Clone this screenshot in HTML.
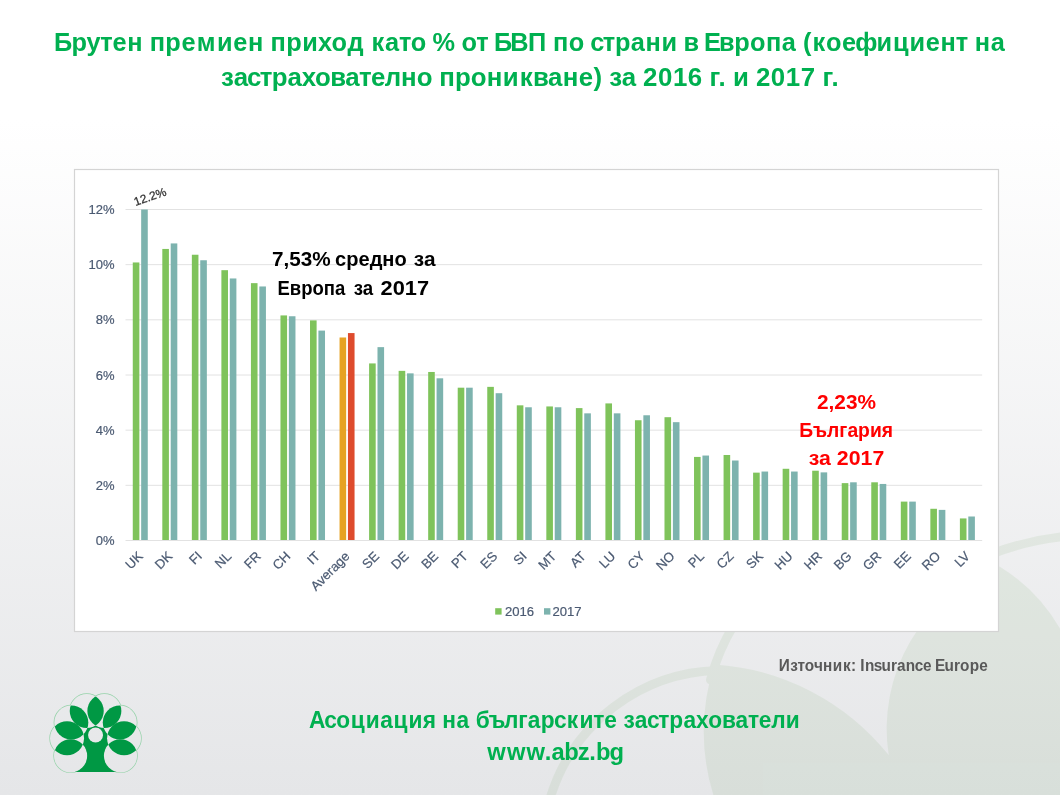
<!DOCTYPE html><html><head><meta charset="utf-8"><title>Брутен премиен приход</title><style>html,body{margin:0;padding:0;width:1060px;height:795px;overflow:hidden;background:#fff}svg{display:block}text{white-space:pre}</style></head><body>
<svg xml:space="preserve" width="1060" height="795" viewBox="0 0 1060 795">
<defs><linearGradient id="bg" x1="0" y1="0" x2="0" y2="1"><stop offset="0" stop-color="#ffffff"/><stop offset="0.15" stop-color="#ffffff"/><stop offset="1" stop-color="#e5e6e8"/></linearGradient><clipPath id="wA"><circle cx="890" cy="732" r="192"/></clipPath></defs>
<rect width="1060" height="795" fill="url(#bg)"/>
<g opacity="0.1">
<path d="M 714 797 A 213 213 0 0 1 714.5 664.5 A 243 243 0 0 1 888.7 755.1 A 173 173 0 0 1 999.6 566.4 A 180 180 0 0 1 1062 632 L 1062 797 Z" fill="#70a35f"/>
<g fill="none" stroke="#70a35f" stroke-width="9" stroke-linecap="round">
<path d="M 550.5 797 A 180 180 0 0 1 718 670.5"/>
<path d="M 710.5 680 A 208.5 208.5 0 0 1 733.8 625"/>
<path d="M 990 554.5 Q 1025 541 1062 536.8"/>
</g></g>
<defs>
<clipPath id="cTL"><circle cx="86.74" cy="711.0" r="17"/></clipPath>
<clipPath id="cTR"><circle cx="104.36" cy="711.0" r="17"/></clipPath>
<clipPath id="cLU"><circle cx="71.32" cy="722.5" r="17"/></clipPath>
<clipPath id="cRU"><circle cx="119.78" cy="722.5" r="17"/></clipPath>
<clipPath id="cLM"><circle cx="67.05" cy="738.3" r="17"/></clipPath>
<clipPath id="cRM"><circle cx="124.05" cy="738.3" r="17"/></clipPath>
<clipPath id="cLB"><circle cx="70.6" cy="755.8" r="16.6"/></clipPath>
<clipPath id="cRB"><circle cx="120.5" cy="755.8" r="16.6"/></clipPath>
<mask id="mOut" maskUnits="userSpaceOnUse" x="40" y="680" width="120" height="110"><rect x="40" y="680" width="120" height="110" fill="#fff"/>
<circle cx="86.74" cy="711.0" r="17" fill="#000"/>
<circle cx="104.36" cy="711.0" r="17" fill="#000"/>
<circle cx="71.32" cy="722.5" r="17" fill="#000"/>
<circle cx="119.78" cy="722.5" r="17" fill="#000"/>
<circle cx="67.05" cy="738.3" r="17" fill="#000"/>
<circle cx="124.05" cy="738.3" r="17" fill="#000"/>
<circle cx="70.6" cy="755.8" r="16.6" fill="#000"/>
<circle cx="120.5" cy="755.8" r="16.6" fill="#000"/>
<circle cx="95.55" cy="735.0" r="7.5" fill="#000"/>
</mask>
</defs>
<g mask="url(#mOut)" fill="none" stroke="#94d2a8" stroke-width="1.4">
<circle cx="86.74" cy="711.0" r="17"/>
<circle cx="104.36" cy="711.0" r="17"/>
<circle cx="71.32" cy="722.5" r="17"/>
<circle cx="119.78" cy="722.5" r="17"/>
<circle cx="67.05" cy="738.3" r="17"/>
<circle cx="124.05" cy="738.3" r="17"/>
<circle cx="70.6" cy="755.8" r="16.6"/>
<circle cx="120.5" cy="755.8" r="16.6"/>
</g>
<polygon points="86.74,711.00 104.36,711.00 119.78,722.50 124.05,738.30 120.50,755.80 120.50,772.00 70.60,772.00 70.60,755.80 67.05,738.30 71.32,722.50" fill="#009844" mask="url(#mOut)"/>
<circle cx="86.74" cy="711.0" r="17" fill="#009844" clip-path="url(#cTR)"/>
<circle cx="86.74" cy="711.0" r="17" fill="#009844" clip-path="url(#cLU)"/>
<circle cx="71.32" cy="722.5" r="17" fill="#009844" clip-path="url(#cLM)"/>
<circle cx="67.05" cy="738.3" r="17" fill="#009844" clip-path="url(#cLB)"/>
<circle cx="104.36" cy="711.0" r="17" fill="#009844" clip-path="url(#cRU)"/>
<circle cx="119.78" cy="722.5" r="17" fill="#009844" clip-path="url(#cRM)"/>
<circle cx="124.05" cy="738.3" r="17" fill="#009844" clip-path="url(#cRB)"/>
<text transform="scale(0.95627,1)" x="56.60 74.83 90.58 104.79 117.54 133.03 149.20 156.56 172.92 189.69 205.67 226.84 243.91 259.39 275.57 282.93 299.29 316.04 332.50 346.69 363.39 380.54 388.47 402.67 417.13 429.47 445.61 452.19 474.97 482.62 498.15 510.42 516.59 533.69 552.03 571.03 578.39 594.77 610.92 617.14 630.43 643.06 659.62 674.96 691.75 708.24 714.85 730.40 736.21 751.99 767.90 784.40 800.96 817.39 832.14 839.67 849.75 863.71 880.43 894.32 916.71 933.91 951.09 968.16 983.64 999.52 1011.80 1019.32 1035.93" y="51.0" style="font-family:'Liberation Sans',sans-serif;font-weight:bold;font-size:26.5px" fill="#00b050">Брутен премиен приход като % от БВП по страни в Европа (коефициент на</text>
<text transform="scale(0.97527,1)" x="226.66 239.57 253.31 266.37 278.72 294.91 309.29 323.00 338.67 354.11 368.15 380.40 394.62 411.17 427.40 443.31 450.45 466.50 482.69 499.10 515.56 532.91 546.48 561.97 576.99 593.43 608.66 617.50 624.60 637.52 652.06 659.41 674.67 689.95 705.23 719.95 727.54 736.78 744.21 751.53 767.79 775.15 790.42 805.70 820.97 835.71 843.29 852.52" y="85.7" style="font-family:'Liberation Sans',sans-serif;font-weight:bold;font-size:26.5px" fill="#00b050">застрахователно проникване) за 2016 г. и 2017 г.</text>
<rect x="74.5" y="169.5" width="924" height="462" fill="#ffffff" stroke="#d4d4d4" stroke-width="1.2"/>
<line x1="125.5" x2="982.2" y1="540.50" y2="540.50" stroke="#e2e2e2" stroke-width="1"/>
<text x="114.6" y="545.10" text-anchor="end" style="font-family:'Liberation Sans',sans-serif;font-size:13px" fill="#4b5a72" stroke="#4b5a72" stroke-width="0.2">0%</text>
<line x1="125.5" x2="982.2" y1="485.33" y2="485.33" stroke="#e2e2e2" stroke-width="1"/>
<text x="114.6" y="489.93" text-anchor="end" style="font-family:'Liberation Sans',sans-serif;font-size:13px" fill="#4b5a72" stroke="#4b5a72" stroke-width="0.2">2%</text>
<line x1="125.5" x2="982.2" y1="430.17" y2="430.17" stroke="#e2e2e2" stroke-width="1"/>
<text x="114.6" y="434.77" text-anchor="end" style="font-family:'Liberation Sans',sans-serif;font-size:13px" fill="#4b5a72" stroke="#4b5a72" stroke-width="0.2">4%</text>
<line x1="125.5" x2="982.2" y1="375.00" y2="375.00" stroke="#e2e2e2" stroke-width="1"/>
<text x="114.6" y="379.60" text-anchor="end" style="font-family:'Liberation Sans',sans-serif;font-size:13px" fill="#4b5a72" stroke="#4b5a72" stroke-width="0.2">6%</text>
<line x1="125.5" x2="982.2" y1="319.83" y2="319.83" stroke="#e2e2e2" stroke-width="1"/>
<text x="114.6" y="324.43" text-anchor="end" style="font-family:'Liberation Sans',sans-serif;font-size:13px" fill="#4b5a72" stroke="#4b5a72" stroke-width="0.2">8%</text>
<line x1="125.5" x2="982.2" y1="264.67" y2="264.67" stroke="#e2e2e2" stroke-width="1"/>
<text x="114.6" y="269.27" text-anchor="end" style="font-family:'Liberation Sans',sans-serif;font-size:13px" fill="#4b5a72" stroke="#4b5a72" stroke-width="0.2">10%</text>
<line x1="125.5" x2="982.2" y1="209.50" y2="209.50" stroke="#e2e2e2" stroke-width="1"/>
<text x="114.6" y="214.10" text-anchor="end" style="font-family:'Liberation Sans',sans-serif;font-size:13px" fill="#4b5a72" stroke="#4b5a72" stroke-width="0.2">12%</text>
<rect x="132.77" y="262.46" width="6.6" height="277.54" fill="#7fc35b"/>
<rect x="141.17" y="209.50" width="6.6" height="330.50" fill="#7db3ae"/>
<text transform="translate(143.67,557.0) rotate(-45)" text-anchor="end" style="font-family:'Liberation Sans',sans-serif;font-size:13.2px" fill="#4b5a72" stroke="#4b5a72" stroke-width="0.2">UK</text>
<rect x="162.31" y="248.94" width="6.6" height="291.06" fill="#7fc35b"/>
<rect x="170.71" y="243.43" width="6.6" height="296.57" fill="#7db3ae"/>
<text transform="translate(173.21,557.0) rotate(-45)" text-anchor="end" style="font-family:'Liberation Sans',sans-serif;font-size:13.2px" fill="#4b5a72" stroke="#4b5a72" stroke-width="0.2">DK</text>
<rect x="191.85" y="254.74" width="6.6" height="285.26" fill="#7fc35b"/>
<rect x="200.25" y="260.25" width="6.6" height="279.75" fill="#7db3ae"/>
<text transform="translate(202.75,557.0) rotate(-45)" text-anchor="end" style="font-family:'Liberation Sans',sans-serif;font-size:13.2px" fill="#4b5a72" stroke="#4b5a72" stroke-width="0.2">FI</text>
<rect x="221.39" y="270.18" width="6.6" height="269.82" fill="#7fc35b"/>
<rect x="229.79" y="278.46" width="6.6" height="261.54" fill="#7db3ae"/>
<text transform="translate(232.29,557.0) rotate(-45)" text-anchor="end" style="font-family:'Liberation Sans',sans-serif;font-size:13.2px" fill="#4b5a72" stroke="#4b5a72" stroke-width="0.2">NL</text>
<rect x="250.93" y="283.15" width="6.6" height="256.85" fill="#7fc35b"/>
<rect x="259.33" y="286.46" width="6.6" height="253.54" fill="#7db3ae"/>
<text transform="translate(261.83,557.0) rotate(-45)" text-anchor="end" style="font-family:'Liberation Sans',sans-serif;font-size:13.2px" fill="#4b5a72" stroke="#4b5a72" stroke-width="0.2">FR</text>
<rect x="280.47" y="315.42" width="6.6" height="224.58" fill="#7fc35b"/>
<rect x="288.87" y="316.25" width="6.6" height="223.75" fill="#7db3ae"/>
<text transform="translate(291.37,557.0) rotate(-45)" text-anchor="end" style="font-family:'Liberation Sans',sans-serif;font-size:13.2px" fill="#4b5a72" stroke="#4b5a72" stroke-width="0.2">CH</text>
<rect x="310.01" y="320.38" width="6.6" height="219.62" fill="#7fc35b"/>
<rect x="318.41" y="330.59" width="6.6" height="209.41" fill="#7db3ae"/>
<text transform="translate(320.91,557.0) rotate(-45)" text-anchor="end" style="font-family:'Liberation Sans',sans-serif;font-size:13.2px" fill="#4b5a72" stroke="#4b5a72" stroke-width="0.2">IT</text>
<rect x="339.55" y="337.49" width="6.6" height="202.51" fill="#e6a223"/>
<rect x="347.95" y="333.07" width="6.6" height="206.93" fill="#de4b2d"/>
<text transform="translate(350.45,557.0) rotate(-45)" text-anchor="end" style="font-family:'Liberation Sans',sans-serif;font-size:13.2px" fill="#4b5a72" stroke="#4b5a72" stroke-width="0.2">Average</text>
<rect x="369.09" y="363.42" width="6.6" height="176.58" fill="#7fc35b"/>
<rect x="377.49" y="347.14" width="6.6" height="192.86" fill="#7db3ae"/>
<text transform="translate(379.99,557.0) rotate(-45)" text-anchor="end" style="font-family:'Liberation Sans',sans-serif;font-size:13.2px" fill="#4b5a72" stroke="#4b5a72" stroke-width="0.2">SE</text>
<rect x="398.63" y="370.86" width="6.6" height="169.14" fill="#7fc35b"/>
<rect x="407.03" y="373.35" width="6.6" height="166.65" fill="#7db3ae"/>
<text transform="translate(409.53,557.0) rotate(-45)" text-anchor="end" style="font-family:'Liberation Sans',sans-serif;font-size:13.2px" fill="#4b5a72" stroke="#4b5a72" stroke-width="0.2">DE</text>
<rect x="428.17" y="371.97" width="6.6" height="168.03" fill="#7fc35b"/>
<rect x="436.57" y="378.31" width="6.6" height="161.69" fill="#7db3ae"/>
<text transform="translate(439.07,557.0) rotate(-45)" text-anchor="end" style="font-family:'Liberation Sans',sans-serif;font-size:13.2px" fill="#4b5a72" stroke="#4b5a72" stroke-width="0.2">BE</text>
<rect x="457.71" y="387.69" width="6.6" height="152.31" fill="#7fc35b"/>
<rect x="466.11" y="387.69" width="6.6" height="152.31" fill="#7db3ae"/>
<text transform="translate(468.61,557.0) rotate(-45)" text-anchor="end" style="font-family:'Liberation Sans',sans-serif;font-size:13.2px" fill="#4b5a72" stroke="#4b5a72" stroke-width="0.2">PT</text>
<rect x="487.25" y="386.86" width="6.6" height="153.14" fill="#7fc35b"/>
<rect x="495.65" y="393.21" width="6.6" height="146.79" fill="#7db3ae"/>
<text transform="translate(498.15,557.0) rotate(-45)" text-anchor="end" style="font-family:'Liberation Sans',sans-serif;font-size:13.2px" fill="#4b5a72" stroke="#4b5a72" stroke-width="0.2">ES</text>
<rect x="516.79" y="405.34" width="6.6" height="134.66" fill="#7fc35b"/>
<rect x="525.19" y="407.27" width="6.6" height="132.73" fill="#7db3ae"/>
<text transform="translate(527.69,557.0) rotate(-45)" text-anchor="end" style="font-family:'Liberation Sans',sans-serif;font-size:13.2px" fill="#4b5a72" stroke="#4b5a72" stroke-width="0.2">SI</text>
<rect x="546.33" y="406.44" width="6.6" height="133.56" fill="#7fc35b"/>
<rect x="554.73" y="407.27" width="6.6" height="132.73" fill="#7db3ae"/>
<text transform="translate(557.23,557.0) rotate(-45)" text-anchor="end" style="font-family:'Liberation Sans',sans-serif;font-size:13.2px" fill="#4b5a72" stroke="#4b5a72" stroke-width="0.2">MT</text>
<rect x="575.87" y="408.10" width="6.6" height="131.90" fill="#7fc35b"/>
<rect x="584.27" y="413.34" width="6.6" height="126.66" fill="#7db3ae"/>
<text transform="translate(586.77,557.0) rotate(-45)" text-anchor="end" style="font-family:'Liberation Sans',sans-serif;font-size:13.2px" fill="#4b5a72" stroke="#4b5a72" stroke-width="0.2">AT</text>
<rect x="605.41" y="403.41" width="6.6" height="136.59" fill="#7fc35b"/>
<rect x="613.81" y="413.34" width="6.6" height="126.66" fill="#7db3ae"/>
<text transform="translate(616.31,557.0) rotate(-45)" text-anchor="end" style="font-family:'Liberation Sans',sans-serif;font-size:13.2px" fill="#4b5a72" stroke="#4b5a72" stroke-width="0.2">LU</text>
<rect x="634.95" y="420.24" width="6.6" height="119.76" fill="#7fc35b"/>
<rect x="643.35" y="415.27" width="6.6" height="124.73" fill="#7db3ae"/>
<text transform="translate(645.85,557.0) rotate(-45)" text-anchor="end" style="font-family:'Liberation Sans',sans-serif;font-size:13.2px" fill="#4b5a72" stroke="#4b5a72" stroke-width="0.2">CY</text>
<rect x="664.49" y="417.20" width="6.6" height="122.80" fill="#7fc35b"/>
<rect x="672.89" y="422.17" width="6.6" height="117.83" fill="#7db3ae"/>
<text transform="translate(675.39,557.0) rotate(-45)" text-anchor="end" style="font-family:'Liberation Sans',sans-serif;font-size:13.2px" fill="#4b5a72" stroke="#4b5a72" stroke-width="0.2">NO</text>
<rect x="694.03" y="456.92" width="6.6" height="83.08" fill="#7fc35b"/>
<rect x="702.43" y="455.54" width="6.6" height="84.46" fill="#7db3ae"/>
<text transform="translate(704.93,557.0) rotate(-45)" text-anchor="end" style="font-family:'Liberation Sans',sans-serif;font-size:13.2px" fill="#4b5a72" stroke="#4b5a72" stroke-width="0.2">PL</text>
<rect x="723.57" y="454.99" width="6.6" height="85.01" fill="#7fc35b"/>
<rect x="731.97" y="460.51" width="6.6" height="79.49" fill="#7db3ae"/>
<text transform="translate(734.47,557.0) rotate(-45)" text-anchor="end" style="font-family:'Liberation Sans',sans-serif;font-size:13.2px" fill="#4b5a72" stroke="#4b5a72" stroke-width="0.2">CZ</text>
<rect x="753.11" y="472.64" width="6.6" height="67.36" fill="#7fc35b"/>
<rect x="761.51" y="471.54" width="6.6" height="68.46" fill="#7db3ae"/>
<text transform="translate(764.01,557.0) rotate(-45)" text-anchor="end" style="font-family:'Liberation Sans',sans-serif;font-size:13.2px" fill="#4b5a72" stroke="#4b5a72" stroke-width="0.2">SK</text>
<rect x="782.65" y="468.78" width="6.6" height="71.22" fill="#7fc35b"/>
<rect x="791.05" y="471.54" width="6.6" height="68.46" fill="#7db3ae"/>
<text transform="translate(793.55,557.0) rotate(-45)" text-anchor="end" style="font-family:'Liberation Sans',sans-serif;font-size:13.2px" fill="#4b5a72" stroke="#4b5a72" stroke-width="0.2">HU</text>
<rect x="812.19" y="470.71" width="6.6" height="69.29" fill="#7fc35b"/>
<rect x="820.59" y="472.37" width="6.6" height="67.63" fill="#7db3ae"/>
<text transform="translate(823.09,557.0) rotate(-45)" text-anchor="end" style="font-family:'Liberation Sans',sans-serif;font-size:13.2px" fill="#4b5a72" stroke="#4b5a72" stroke-width="0.2">HR</text>
<rect x="841.73" y="483.13" width="6.6" height="56.87" fill="#7fc35b"/>
<rect x="850.13" y="482.30" width="6.6" height="57.70" fill="#7db3ae"/>
<text transform="translate(852.63,557.0) rotate(-45)" text-anchor="end" style="font-family:'Liberation Sans',sans-serif;font-size:13.2px" fill="#4b5a72" stroke="#4b5a72" stroke-width="0.2">BG</text>
<rect x="871.27" y="482.30" width="6.6" height="57.70" fill="#7fc35b"/>
<rect x="879.67" y="483.95" width="6.6" height="56.05" fill="#7db3ae"/>
<text transform="translate(882.17,557.0) rotate(-45)" text-anchor="end" style="font-family:'Liberation Sans',sans-serif;font-size:13.2px" fill="#4b5a72" stroke="#4b5a72" stroke-width="0.2">GR</text>
<rect x="900.81" y="501.61" width="6.6" height="38.39" fill="#7fc35b"/>
<rect x="909.21" y="501.61" width="6.6" height="38.39" fill="#7db3ae"/>
<text transform="translate(911.71,557.0) rotate(-45)" text-anchor="end" style="font-family:'Liberation Sans',sans-serif;font-size:13.2px" fill="#4b5a72" stroke="#4b5a72" stroke-width="0.2">EE</text>
<rect x="930.35" y="508.78" width="6.6" height="31.22" fill="#7fc35b"/>
<rect x="938.75" y="509.88" width="6.6" height="30.12" fill="#7db3ae"/>
<text transform="translate(941.25,557.0) rotate(-45)" text-anchor="end" style="font-family:'Liberation Sans',sans-serif;font-size:13.2px" fill="#4b5a72" stroke="#4b5a72" stroke-width="0.2">RO</text>
<rect x="959.89" y="518.43" width="6.6" height="21.57" fill="#7fc35b"/>
<rect x="968.29" y="516.50" width="6.6" height="23.50" fill="#7db3ae"/>
<text transform="translate(970.79,557.0) rotate(-45)" text-anchor="end" style="font-family:'Liberation Sans',sans-serif;font-size:13.2px" fill="#4b5a72" stroke="#4b5a72" stroke-width="0.2">LV</text>
<text transform="translate(135.6,205.9) rotate(-19)" style="font-family:'Liberation Sans',sans-serif;font-size:11.8px" fill="#303030" stroke="#303030" stroke-width="0.25">12.2%</text>
<rect x="495.2" y="608.2" width="6.4" height="6.4" fill="#7fc35b"/>
<text x="505" y="615.5" style="font-family:'Liberation Sans',sans-serif;font-size:13.1px" fill="#4b5a72" stroke="#4b5a72" stroke-width="0.2">2016</text>
<rect x="544" y="608.2" width="6.4" height="6.4" fill="#7db3ae"/>
<text x="552.5" y="615.5" style="font-family:'Liberation Sans',sans-serif;font-size:13.1px" fill="#4b5a72" stroke="#4b5a72" stroke-width="0.2">2017</text>
<text transform="scale(0.95935,1)" x="811.88 823.65 831.30 838.95 848.49 857.88 868.01 878.67 887.14 892.24 896.81 901.59 910.70 918.92 928.76 935.09 944.20 953.49 962.03 971.02 974.52 984.46 994.39 1000.78 1010.74 1020.81" y="670.7" style="font-family:'Liberation Sans',sans-serif;font-weight:bold;font-size:16.0px" fill="#595959">Източник: Insurance Europe</text>
<text transform="scale(0.95892,1)" x="322.34 338.16 350.72 365.86 381.32 396.53 410.43 425.88 440.82 454.45 461.24 476.17 489.41 496.01 509.61 525.70 540.40 550.40 563.99 577.83 591.12 604.29 618.75 630.21 643.60 650.17 662.04 674.64 686.59 697.95 712.79 725.95 738.55 752.93 767.08 779.94 791.18 804.23 819.45" y="727.6" style="font-family:'Liberation Sans',sans-serif;font-weight:bold;font-size:23.7px" fill="#00b050">Асоциация на българските застрахователи</text>
<text transform="scale(1.00253,1)" x="485.95 505.80 525.24 543.34 550.09 562.90 576.40 587.82 594.49 607.85" y="759.6" style="font-family:'Liberation Sans',sans-serif;font-weight:bold;font-size:23.7px" fill="#00b050">www.abz.bg</text>
<text x="271.9" y="265.8" style="font-family:'Liberation Sans',sans-serif;font-weight:bold;font-size:19.6px" fill="#000" textLength="58.66" lengthAdjust="spacingAndGlyphs">7,53%</text>
<text x="335.1" y="265.8" style="font-family:'Liberation Sans',sans-serif;font-weight:bold;font-size:19.6px" fill="#000" textLength="71.65" lengthAdjust="spacingAndGlyphs">средно</text>
<text x="413.8" y="265.8" style="font-family:'Liberation Sans',sans-serif;font-weight:bold;font-size:19.6px" fill="#000" textLength="21.69" lengthAdjust="spacingAndGlyphs">за</text>
<text x="277.5" y="294.5" style="font-family:'Liberation Sans',sans-serif;font-weight:bold;font-size:19.6px" fill="#000" textLength="67.8" lengthAdjust="spacingAndGlyphs">Европа</text>
<text x="353.8" y="294.5" style="font-family:'Liberation Sans',sans-serif;font-weight:bold;font-size:19.6px" fill="#000" textLength="19.43" lengthAdjust="spacingAndGlyphs">за</text>
<text x="380.6" y="294.5" style="font-family:'Liberation Sans',sans-serif;font-weight:bold;font-size:19.6px" fill="#000" textLength="48.51" lengthAdjust="spacingAndGlyphs">2017</text>
<text x="817.0" y="408.6" style="font-family:'Liberation Sans',sans-serif;font-weight:bold;font-size:19.6px" fill="#ff0000" textLength="59.04" lengthAdjust="spacingAndGlyphs">2,23%</text>
<text x="799.2" y="437.0" style="font-family:'Liberation Sans',sans-serif;font-weight:bold;font-size:19.6px" fill="#ff0000" textLength="93.84" lengthAdjust="spacingAndGlyphs">България</text>
<text x="808.8" y="464.8" style="font-family:'Liberation Sans',sans-serif;font-weight:bold;font-size:19.6px" fill="#ff0000" textLength="75.47" lengthAdjust="spacingAndGlyphs">за 2017</text>
</svg></body></html>
